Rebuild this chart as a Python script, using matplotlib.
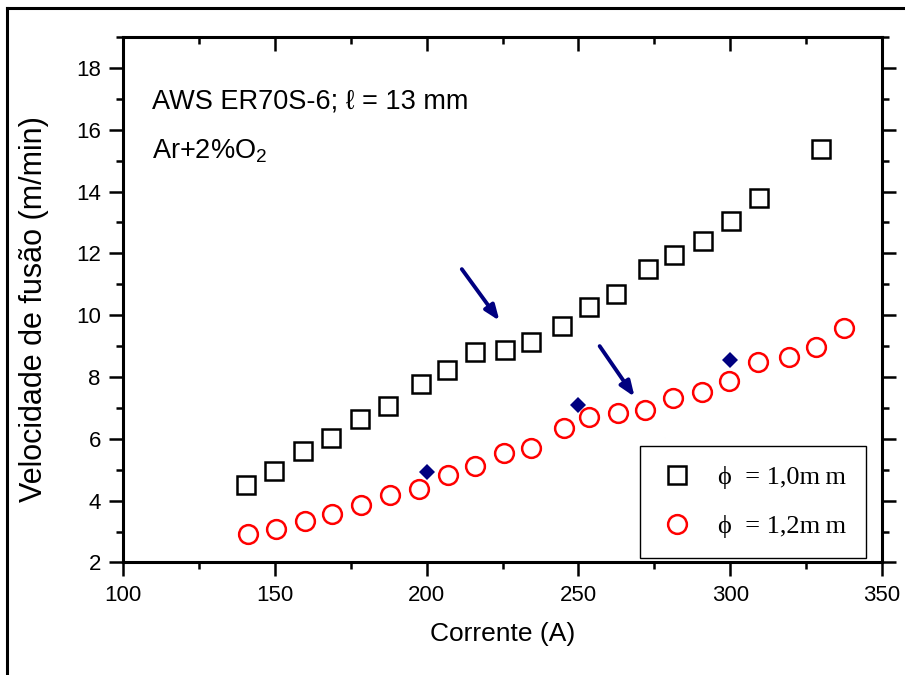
import matplotlib
matplotlib.use("Agg")
import matplotlib.pyplot as plt
from matplotlib.lines import Line2D
from matplotlib.ticker import MultipleLocator

plt.rcParams['font.family'] = ['Liberation Sans', 'DejaVu Sans']
plt.rcParams['mathtext.fontset'] = 'custom'
plt.rcParams['mathtext.rm'] = 'Liberation Sans'
plt.rcParams['mathtext.it'] = 'Liberation Sans:italic'

# Wire diameter 1.0 mm
corrente_10 = [140.5, 149.8, 159.4, 168.4, 177.9, 187.3, 198.2, 206.8, 216.0, 225.9,
               234.5, 244.7, 253.6, 262.5, 273.0, 281.6, 291.2, 300.3, 309.6, 329.8]
veloc_10 = [4.50, 4.97, 5.60, 6.02, 6.64, 7.07, 7.77, 8.23, 8.81, 8.87,
            9.13, 9.65, 10.27, 10.69, 11.49, 11.94, 12.40, 13.05, 13.80, 15.39]

# Wire diameter 1.2 mm
corrente_12 = [141.3, 150.3, 160.1, 168.9, 178.4, 188.0, 197.6, 206.9, 216.0, 225.6, 234.5,
               245.1, 253.6, 262.9, 272.0, 281.0, 290.6, 299.7, 309.3, 319.5, 328.3, 337.4]
veloc_12 = [2.92, 3.09, 3.34, 3.56, 3.85, 4.18, 4.39, 4.83, 5.12, 5.54, 5.70,
            6.35, 6.71, 6.84, 6.93, 7.31, 7.52, 7.88, 8.50, 8.66, 8.97, 9.60]

# Reference points
corrente_ref = [200, 250, 300]
veloc_ref = [4.94, 7.10, 8.55]

# Arrows: (tail_x, tail_y, tip_x, tip_y)
arrows = [(211.6, 11.49, 224.0, 9.82), (257.0, 9.00, 268.5, 7.36)]

x_ticks = [100, 150, 200, 250, 300, 350]
y_ticks = [2, 4, 6, 8, 10, 12, 14, 16, 18]

label_10 = 'ϕ\u2002= 1,0m\u2009m'
label_12 = 'ϕ\u2002= 1,2m\u2009m'

fig = plt.figure(figsize=(9.05, 6.75), dpi=100)
ax = fig.add_axes([0.1359, 0.1667, 0.8387, 0.7785])

# Outer frame lines (left and top)
fig.add_artist(Line2D([7 / 905, 7 / 905], [0, 1 - 8 / 675], transform=fig.transFigure,
                      color='black', lw=2.2))
fig.add_artist(Line2D([7 / 905, 1], [1 - 8 / 675, 1 - 8 / 675], transform=fig.transFigure,
                      color='black', lw=2.2))

ax.plot(corrente_10, veloc_10, ls='none', marker='s', ms=12.5, mfc='none',
        mec='black', mew=1.8, label=label_10)
ax.plot(corrente_12, veloc_12, ls='none', marker='o', ms=13.5, mfc='none',
        mec='#ff0000', mew=1.8, label=label_12)
ax.plot(corrente_ref, veloc_ref, ls='none', marker='D', ms=8, mfc='#000080',
        mec='#000080', mew=0)

for tx, ty, hx, hy in arrows:
    ax.annotate('', xy=(hx, hy), xytext=(tx, ty),
                arrowprops=dict(arrowstyle='-|>,head_length=0.9,head_width=0.35',
                                color='#000080', lw=2.8, shrinkA=0, shrinkB=0))

ax.set_xlim(100, 350)
ax.set_ylim(2, 19)
ax.set_xticks(x_ticks)
ax.set_yticks(y_ticks)
ax.xaxis.set_minor_locator(MultipleLocator(25))
ax.yaxis.set_minor_locator(MultipleLocator(1))

ax.tick_params(axis='both', which='major', length=10, width=1.8, labelsize=16,
               direction='out', pad=6)
ax.tick_params(axis='both', which='minor', length=5, width=1.8, direction='out')
ax.tick_params(which='both', top=True, right=True, labeltop=False, labelright=False)
for t in ax.xaxis.get_major_ticks() + ax.xaxis.get_minor_ticks():
    t.tick2line.set_marker(3)  # top ticks point inward
for t in ax.yaxis.get_major_ticks() + ax.yaxis.get_minor_ticks():
    t.tick2line.set_marker(1)  # right ticks point inward
for spine in ax.spines.values():
    spine.set_linewidth(2.2)

ax.set_xlabel('Corrente (A)', fontsize=19)
ax.xaxis.set_label_coords(0.5, -0.113)
ax.set_ylabel('Velocidade de fusão (m/min)', fontsize=22)
ax.yaxis.set_label_coords(-0.097, 0.482)

ax.text(0.038, 0.864, 'AWS ER70S-6; ℓ = 13 mm', transform=ax.transAxes, fontsize=19.5,
        va='baseline', ha='left')
ax.text(0.038, 0.769, 'Ar+2%O$_2$', transform=ax.transAxes, fontsize=19.5,
        va='baseline', ha='left')

leg = ax.legend(loc='lower right', bbox_to_anchor=(0.979, 0.009), fancybox=False,
                edgecolor='black', framealpha=1, borderpad=0.75, labelspacing=0.95,
                handletextpad=0.92, handlelength=1.3, borderaxespad=0,
                prop={'family': ['Liberation Serif', 'DejaVu Serif'], 'size': 19})
leg.get_frame().set_linewidth(1.0)

fig.savefig('out.png', dpi=100)
